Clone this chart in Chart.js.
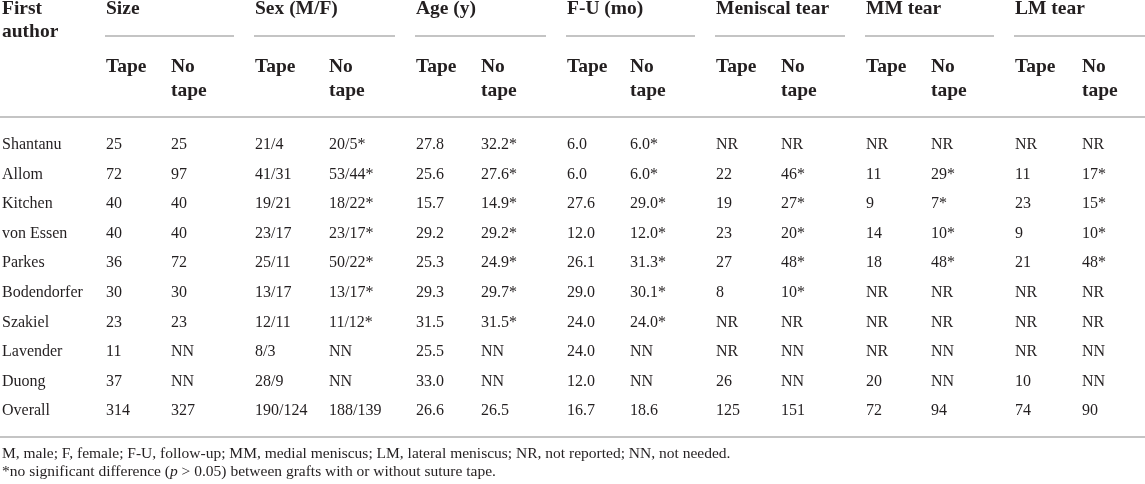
<!DOCTYPE html>
<html>
<head>
<meta charset="utf-8">
<script src="https://cdn.jsdelivr.net/npm/chart.js@4.4.1/dist/chart.umd.min.js"></script>
<style>
  html, body { margin: 0; padding: 0; background: #fff; }
  #wrap { width: 1145px; height: 484px; }
</style>
</head>
<body>
<div id="wrap"><canvas id="tbl"></canvas></div>
<script>
// rows
const authors = ["Shantanu", "Allom", "Kitchen", "von Essen", "Parkes", "Bodendorfer", "Szakiel", "Lavender", "Duong", "Overall"];
// column headers
const groups = ["Size", "Sex (M/F)", "Age (y)", "F-U (mo)", "Meniscal tear", "MM tear", "LM tear"];
const subHeads = ["Tape", "No|tape"];

// cell values, one array per column
const sizeTape = ["25", "72", "40", "40", "36", "30", "23", "11", "37", "314"];
const sizeNoTape = ["25", "97", "40", "40", "72", "30", "23", "NN", "NN", "327"];
const sexTape = ["21/4", "41/31", "19/21", "23/17", "25/11", "13/17", "12/11", "8/3", "28/9", "190/124"];
const sexNoTape = ["20/5*", "53/44*", "18/22*", "23/17*", "50/22*", "13/17*", "11/12*", "NN", "NN", "188/139"];
const ageTape = ["27.8", "25.6", "15.7", "29.2", "25.3", "29.3", "31.5", "25.5", "33.0", "26.6"];
const ageNoTape = ["32.2*", "27.6*", "14.9*", "29.2*", "24.9*", "29.7*", "31.5*", "NN", "NN", "26.5"];
const fuTape = ["6.0", "6.0", "27.6", "12.0", "26.1", "29.0", "24.0", "24.0", "12.0", "16.7"];
const fuNoTape = ["6.0*", "6.0*", "29.0*", "12.0*", "31.3*", "30.1*", "24.0*", "NN", "NN", "18.6"];
const menTape = ["NR", "22", "19", "23", "27", "8", "NR", "NR", "26", "125"];
const menNoTape = ["NR", "46*", "27*", "20*", "48*", "10*", "NR", "NN", "NN", "151"];
const mmTape = ["NR", "11", "9", "14", "18", "NR", "NR", "NR", "20", "72"];
const mmNoTape = ["NR", "29*", "7*", "10*", "48*", "NR", "NR", "NN", "NN", "94"];
const lmTape = ["NR", "11", "23", "9", "21", "NR", "NR", "NR", "10", "74"];
const lmNoTape = ["NR", "17*", "15*", "10*", "48*", "NR", "NR", "NN", "NN", "90"];

const footnote1 = "M, male; F, female; F-U, follow-up; MM, medial meniscus; LM, lateral meniscus; NR, not reported; NN, not needed.";
const footnote2 = ["*no significant difference (", "p", " > 0.05) between grafts with or without suture tape."];

const columns = [authors, sizeTape, sizeNoTape, sexTape, sexNoTape, ageTape, ageNoTape,
  fuTape, fuNoTape, menTape, menNoTape, mmTape, mmNoTape, lmTape, lmNoTape];

// layout: left edge of each column (px)
const colX = [2, 106, 171, 255, 329, 416, 481, 567, 630, 716, 781, 866, 931, 1015, 1082];

const ink = "#231f20";
const rule = "#c4c4c4";
const bodyFont = "16px 'Liberation Serif'";
const headFont = "bold 19.5px 'Liberation Serif'";
const noteFont = "15.5px 'Liberation Serif'";

const tablePlugin = {
  id: "tableText",
  afterDatasetsDraw(chart) {
    const ctx = chart.ctx;
    const xs = chart.scales.x;
    const area = chart.chartArea;
    ctx.save();
    ctx.textBaseline = "middle";
    ctx.textAlign = "left";
    ctx.fillStyle = ink;

    // body cells, placed on the points the scales give
    ctx.font = bodyFont;
    chart.data.datasets.forEach((ds, i) => {
      chart.getDatasetMeta(i).data.forEach((pt, j) => {
        ctx.fillText(ds.cells[j], pt.x, pt.y);
      });
    });

    // header
    const top = area.top;
    ctx.font = headFont;
    ctx.fillText("First", xs.getPixelForValue(colX[0]), top - 121);
    ctx.fillText("author", xs.getPixelForValue(colX[0]), top - 98);

    ctx.strokeStyle = rule;
    ctx.lineWidth = 2;
    groups.forEach((g, k) => {
      const x0 = xs.getPixelForValue(colX[1 + 2 * k]);
      const x1 = xs.getPixelForValue(colX[2 + 2 * k]);
      const end = k < groups.length - 1 ? xs.getPixelForValue(colX[3 + 2 * k]) - 21 : area.right;
      ctx.fillText(g, x0, top - 121);
      ctx.beginPath();
      ctx.moveTo(x0 - 1, top - 94);
      ctx.lineTo(end, top - 94);
      ctx.stroke();
      [x0, x1].forEach((x, s) => {
        const parts = subHeads[s].split("|");
        parts.forEach((p, n) => ctx.fillText(p, x, top - 63 + n * 24));
      });
    });

    // header rule and bottom rule
    ctx.beginPath();
    ctx.moveTo(area.left, top - 13);
    ctx.lineTo(area.right, top - 13);
    ctx.moveTo(area.left, area.bottom + 11);
    ctx.lineTo(area.right, area.bottom + 11);
    ctx.stroke();

    // footnotes
    ctx.font = noteFont;
    const fx = xs.getPixelForValue(colX[0]);
    ctx.fillText(footnote1, fx, area.bottom + 28);
    let x = fx;
    footnote2.forEach((seg, n) => {
      ctx.font = n === 1 ? "italic " + noteFont : noteFont;
      ctx.fillText(seg, x, area.bottom + 46);
      x += ctx.measureText(seg).width;
    });
    ctx.restore();
  }
};

const ctx = document.getElementById("tbl").getContext("2d");
new Chart(ctx, {
  type: "scatter",
  data: {
    datasets: columns.map((col, c) => ({
      label: "col" + c,
      cells: col,
      data: col.map((v, r) => ({ x: colX[c], y: authors[r] })),
      pointRadius: 0,
      pointHoverRadius: 0,
    })),
  },
  options: {
    responsive: true,
    maintainAspectRatio: false,
    animation: false,
    events: [],
    layout: { padding: { top: 130, bottom: 58, left: 0, right: 0 } },
    plugins: {
      legend: { display: false },
      tooltip: { enabled: false },
    },
    scales: {
      x: { type: "linear", min: 0, max: 1145, display: false },
      y: { type: "category", labels: authors, offset: true, display: false },
    },
  },
  plugins: [tablePlugin],
});
</script>
</body>
</html>
